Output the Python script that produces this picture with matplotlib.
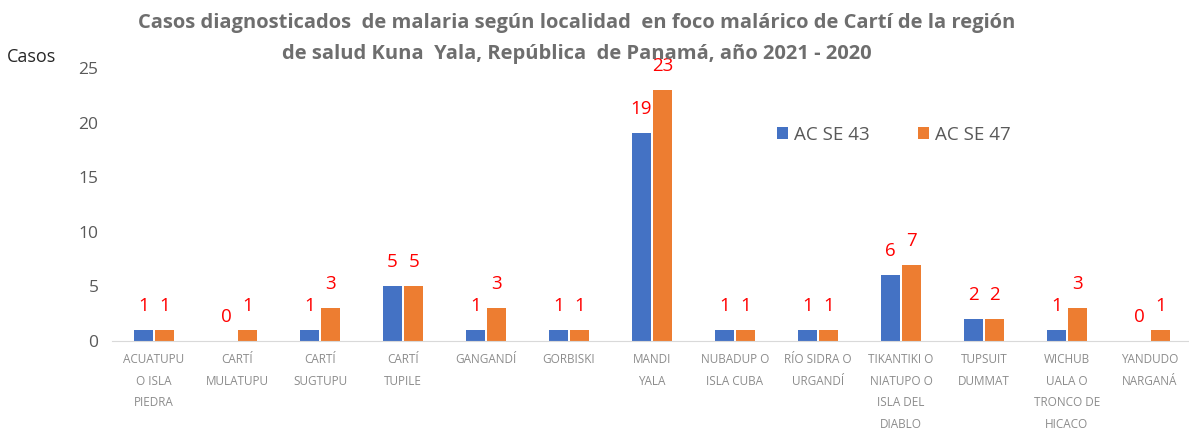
import numpy as np
import matplotlib.pyplot as plt

plt.rcParams['font.family'] = ['Open Sans', 'DejaVu Sans']

localidades = ['ACUATUPU\nO ISLA\nPIEDRA', 'CARTÍ\nMULATUPU', 'CARTÍ\nSUGTUPU', 'CARTÍ\nTUPILE',
               'GANGANDÍ', 'GORBISKI', 'MANDI\nYALA', 'NUBADUP O\nISLA CUBA',
               'RÍO SIDRA O\nURGANDÍ', 'TIKANTIKI O\nNIATUPO O\nISLA DEL\nDIABLO',
               'TUPSUIT\nDUMMAT', 'WICHUB\nUALA O\nTRONCO DE\nHICACO', 'YANDUDO\nNARGANÁ']
se43 = [1, 0, 1, 5, 1, 1, 19, 1, 1, 6, 2, 1, 0]
se47 = [1, 1, 3, 5, 3, 1, 23, 1, 1, 7, 2, 3, 1]

azul = '#4472c4'
naranja = '#ed7d31'

fig = plt.figure(figsize=(11.89, 4.30), dpi=100)
ax = fig.add_axes([0.0946, 0.207, 0.9075, 0.635])

x = np.arange(len(localidades))
w = 0.225
b1 = ax.bar(x - 0.13, se43, w, color=azul, label='AC SE 43')
b2 = ax.bar(x + 0.13, se47, w, color=naranja, label='AC SE 47')

for bars in (b1, b2):
    for r in bars:
        ax.text(r.get_x() + r.get_width() / 2, r.get_height() + 2.2, str(int(r.get_height())),
                ha='center', va='center', color='#ff0000', fontsize=13.5)

ax.set_xlim(-0.5, len(localidades) - 0.5)
ax.set_ylim(0, 25)
ax.set_yticks(range(0, 26, 5))
ax.set_xticks(x)
ax.set_xticklabels(localidades, fontsize=8.5, color='#8c8c8c', linespacing=1.85)
ax.tick_params(axis='y', labelsize=12.5, colors='#595959', length=0, pad=10)
ax.tick_params(axis='x', length=0, pad=9)
for s in ['top', 'right', 'left']:
    ax.spines[s].set_visible(False)
ax.spines['bottom'].set_color('#d9d9d9')

ax.legend(loc='upper left', bbox_to_anchor=(0.6, 0.85), ncol=2, frameon=False,
          fontsize=13.5, handlelength=0.6, handleheight=0.6, columnspacing=2.6,
          handletextpad=0.3, labelcolor='#595959')

fig.text(0.485, 0.91, 'Casos diagnosticados  de malaria según localidad  en foco malárico de Cartí de la región\n'
         'de salud Kuna  Yala, República  de Panamá, año 2021 - 2020',
         ha='center', va='center', fontsize=14.5, fontweight='bold', color='#6e6e6e', linespacing=1.75)
fig.text(0.006, 0.868, 'Casos', fontsize=13, color='#262626', va='center')

fig.savefig('out.png')
